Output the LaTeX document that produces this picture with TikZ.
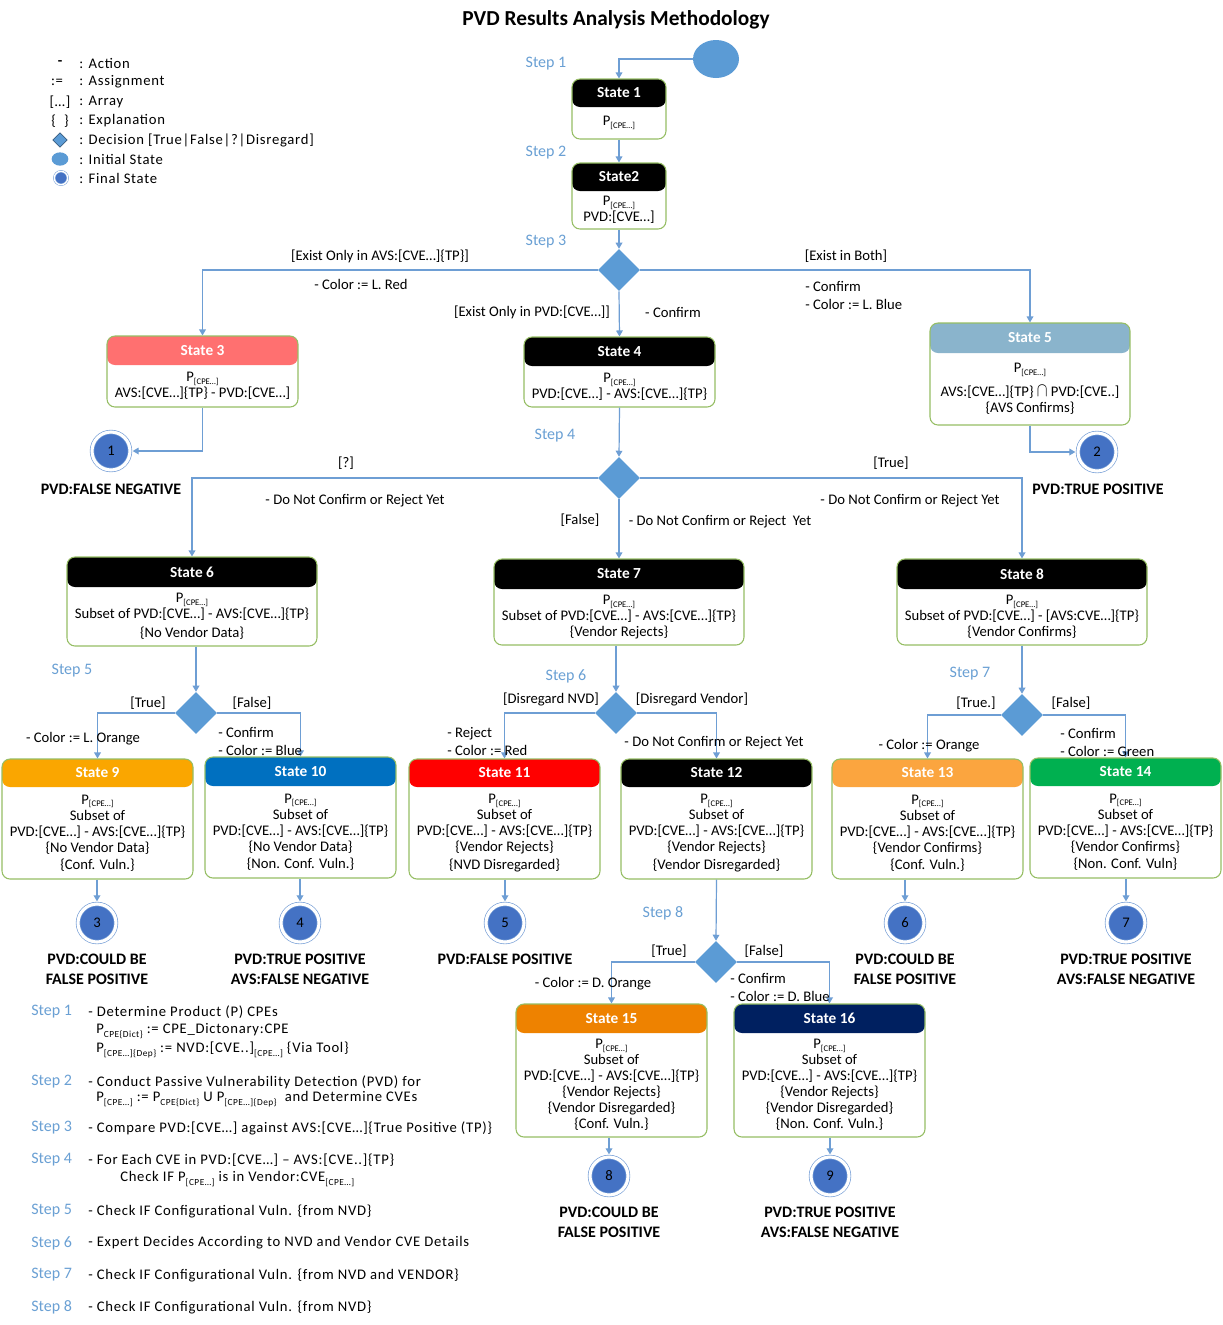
\documentclass[tikz,border=0pt]{standalone}
\usepackage{fontspec}
\setmainfont{Carlito}
\usetikzlibrary{shapes.geometric,arrows.meta}
\definecolor{lineC}{RGB}{110,158,212}
\definecolor{diaC}{RGB}{91,155,213}
\definecolor{finC}{RGB}{68,114,196}
\definecolor{ringC}{RGB}{120,160,215}
\definecolor{stepC}{RGB}{106,160,212}
\definecolor{boxC}{RGB}{150,190,100}
\definecolor{hRed}{RGB}{255,112,112}
\definecolor{hLBlue}{RGB}{138,180,204}
\definecolor{hOrange}{RGB}{250,166,0}
\definecolor{hBlue}{RGB}{0,112,192}
\definecolor{hRedB}{RGB}{255,0,0}
\definecolor{hLOrange}{RGB}{251,165,63}
\definecolor{hGreen}{RGB}{0,176,80}
\definecolor{hDOrange}{RGB}{238,130,0}
\definecolor{hNavy}{RGB}{0,32,96}
\newcommand\cpe{\raisebox{-0.4ex}{\fontsize{6.5}{6.5}\selectfont[CPE…]}}
\newcommand\subs[1]{\raisebox{-0.5ex}{\fontsize{7}{7}\selectfont #1}}
\newcommand\bigint{\scalebox{1.1}[1.35]{$\cap$}}
\tikzset{
  arr/.style={draw=lineC, line width=0.9pt, -{Triangle[width=5pt,length=4.5pt]}},
  stbox/.style={rectangle, rounded corners=6pt, draw=boxC, line width=0.8pt, fill=white, inner sep=0pt},
  sttitle/.style={font=\bfseries\fontsize{11.5}{13}\selectfont, text=white, inner sep=0pt},
  stbody/.style={font=\fontsize{11}{12}\selectfont, align=center, inner sep=0pt},
  dia/.style={diamond, aspect=1, fill=diaC, minimum width=31.5pt, minimum height=31.5pt, inner sep=0pt},
  final/.style={circle, fill=finC, draw=ringC, double=white, double distance=2.3pt, line width=0.5pt, minimum size=28.5pt, inner sep=0pt, outer sep=2pt, font=\fontsize{11}{12}\selectfont},
  flabel/.style={font=\bfseries\fontsize{12}{15}\selectfont, align=center, inner sep=0pt},
  elabel/.style={font=\fontsize{11}{13}\selectfont, inner sep=0pt},
  elabell/.style={font=\fontsize{11}{13.5}\selectfont, inner sep=0pt, align=left, anchor=west},
  steplbl/.style={font=\fontsize{12}{13}\selectfont, text=stepC, inner sep=0pt},
  desc/.style={font=\fontsize{11}{13}\selectfont\addfontfeature{LetterSpace=5}, inner sep=0pt, anchor=west},
  leg/.style={font=\fontsize{11}{13}\selectfont\addfontfeature{LetterSpace=5}, inner sep=0pt},
}
\newcommand\mkstate[9]{%
  \node[stbox, minimum width={(#4-#2)*0.75pt}, minimum height={(#5-#3)*0.75pt},
    path picture={\fill[#7] (path picture bounding box.north west) rectangle ([yshift={-(#6)*0.75pt}]path picture bounding box.north east);}]
    (#1) at ({(#2+#4)/2},{(#3+#5)/2}) {};
  \node[sttitle] (#1t) at ({(#2+#4)/2},{#3+#6/2}) {#8};
  \node[stbody] (#1b) at ({(#2+#4)/2},{(#3+#6+#5)/2}) {#9};
}
\begin{document}
\begin{tikzpicture}[x=0.75pt,y=-0.75pt]
\useasboundingbox (0,0) rectangle (1223,1325);
\fill[white] (0,0) rectangle (1223,1325);

% title
\node[font=\bfseries\fontsize{16}{18}\selectfont, inner sep=0pt] (title) at (616,20) {PVD Results Analysis Methodology};

% legend
\node[leg, font=\bfseries\fontsize{11}{13}\selectfont] (lg1s) at (60,63) {-};
\node[leg] (lg2s) at (57,82) {:=};
\node[leg] (lg3s) at (60,102) {[…]};
\node[leg] (lg4s) at (60,121) {\{\ \ \}};
\node[diamond, aspect=1, fill=diaC, draw=diaC!60!black, line width=0.5pt, minimum width=11pt, minimum height=11pt, inner sep=0pt] (lg5s) at (60,140) {};
\node[ellipse, fill=diaC, minimum width=12.5pt, minimum height=10pt, inner sep=0pt] (lg6s) at (60,159) {};
\node[circle, fill=finC, draw=ringC, double=white, double distance=1pt, line width=0.4pt, minimum size=10pt, inner sep=0pt] (lg7s) at (61,178) {};
\node[leg, anchor=west] (lg1) at (79,63) {: Action};
\node[leg, anchor=west] (lg2) at (79,82) {: Assignment};
\node[leg, anchor=west] (lg3) at (79,102) {: Array};
\node[leg, anchor=west] (lg4) at (79,121) {: Explanation};
\node[leg, anchor=west] (lg5) at (79,140) {: Decision [True|False|?|Disregard]};
\node[leg, anchor=west] (lg6) at (79,159) {: Initial State};
\node[leg, anchor=west] (lg7) at (79,178) {: Final State};

% initial
\node[ellipse, fill=diaC, minimum width=34.5pt, minimum height=28.5pt, inner sep=0pt] (init) at (716,59) {};

% states
\mkstate{s1}{572}{79}{666}{139}{28}{black}{State 1}{P\cpe}
\mkstate{s2}{572}{163}{666}{229}{28}{black}{State2}{P\cpe\\PVD:[CVE…]}
\mkstate{s3}{107}{336}{298}{407}{29}{hRed}{State 3}{P\cpe\\AVS:[CVE…]\{TP\} - PVD:[CVE…]}
\mkstate{s4}{524}{337}{715}{407}{29}{black}{State 4}{P\cpe\\PVD:[CVE…] - AVS:[CVE…]\{TP\}}
\mkstate{s5}{930}{323}{1130}{425}{30}{hLBlue}{State 5}{P\cpe\\[6pt]AVS:[CVE…]\{TP\} \bigint{} PVD:[CVE..]\\\{AVS Confirms\}}
\mkstate{s6}{67}{557}{317}{646}{30}{black}{State 6}{P\cpe\\Subset of PVD:[CVE…] - AVS:[CVE…]\{TP\}\\[2pt]\{No Vendor Data\}}
\mkstate{s7}{494}{559}{744}{645}{30}{black}{State 7}{P\cpe\\Subset of PVD:[CVE…] - AVS:[CVE…]\{TP\}\\\{Vendor Rejects\}}
\mkstate{s8}{897}{559}{1147}{645}{30}{black}{State 8}{P\cpe\\Subset of PVD:[CVE…] - [AVS:CVE…]\{TP\}\\\{Vendor Confirms\}}
\mkstate{s9}{2}{759}{193}{879}{28}{hOrange}{State 9}{P\cpe\\Subset of\\PVD:[CVE…] - AVS:[CVE…]\{TP\}\\\{No Vendor Data\}\\[1pt]\{Conf. Vuln.\}}
\mkstate{s10}{205}{757}{396}{878}{29}{hBlue}{State 10}{P\cpe\\Subset of\\PVD:[CVE…] - AVS:[CVE…]\{TP\}\\\{No Vendor Data\}\\[1pt]\{Non. Conf. Vuln.\}}
\mkstate{s11}{409}{759}{600}{879}{28}{hRedB}{State 11}{P\cpe\\Subset of\\PVD:[CVE…] - AVS:[CVE…]\{TP\}\\\{Vendor Rejects\}\\[1pt]\{NVD Disregarded\}}
\mkstate{s12}{621}{759}{812}{879}{28}{black}{State 12}{P\cpe\\Subset of\\PVD:[CVE…] - AVS:[CVE…]\{TP\}\\\{Vendor Rejects\}\\[1pt]\{Vendor Disregarded\}}
\mkstate{s13}{832}{759}{1023}{879}{28}{hLOrange}{State 13}{P\cpe\\Subset of\\PVD:[CVE…] - AVS:[CVE…]\{TP\}\\\{Vendor Confirms\}\\[1pt]\{Conf. Vuln.\}}
\mkstate{s14}{1030}{758}{1221}{878}{28}{hGreen}{State 14}{P\cpe\\Subset of\\PVD:[CVE…] - AVS:[CVE…]\{TP\}\\\{Vendor Confirms\}\\[1pt]\{Non. Conf. Vuln\}}
\mkstate{s15}{516}{1004}{707}{1137}{29}{hDOrange}{State 15}{P\cpe\\Subset of\\PVD:[CVE…] - AVS:[CVE…]\{TP\}\\\{Vendor Rejects\}\\\{Vendor Disregarded\}\\\{Conf. Vuln.\}}
\mkstate{s16}{734}{1004}{925}{1137}{29}{hNavy}{State 16}{P\cpe\\Subset of\\PVD:[CVE…] - AVS:[CVE…]\{TP\}\\\{Vendor Rejects\}\\\{Vendor Disregarded\}\\\{Non. Conf. Vuln.\}}

% decisions
\node[dia] (d1) at (619,270) {};
\node[dia] (d2) at (619,478) {};
\node[dia] (d3) at (196,713) {};
\node[dia] (d4) at (616,713) {};
\node[dia] (d5) at (1022,715) {};
\node[dia] (d6) at (716,962) {};

% finals
\node[final] (f1) at (111,451) {1};
\node[final] (f2) at (1097,452) {2};
\node[final] (f3) at (97,923) {3};
\node[final] (f4) at (300,923) {4};
\node[final] (f5) at (505,923) {5};
\node[final] (f6) at (905,923) {6};
\node[final] (f7) at (1126,923) {7};
\node[final] (f8) at (609,1176) {8};
\node[final] (f9) at (830,1176) {9};

\node[flabel] (fl1) at (111,489) {PVD:FALSE NEGATIVE};
\node[flabel] (fl2) at (1098,489) {PVD:TRUE POSITIVE};
\node[flabel] (fl3) at (97,969) {PVD:COULD BE\\FALSE POSITIVE};
\node[flabel] (fl4) at (300,969) {PVD:TRUE POSITIVE\\AVS:FALSE NEGATIVE};
\node[flabel] (fl5) at (505,959) {PVD:FALSE POSITIVE};
\node[flabel] (fl6) at (905,969) {PVD:COULD BE\\FALSE POSITIVE};
\node[flabel] (fl7) at (1126,969) {PVD:TRUE POSITIVE\\AVS:FALSE NEGATIVE};
\node[flabel] (fl8) at (609,1222) {PVD:COULD BE\\FALSE POSITIVE};
\node[flabel] (fl9) at (830,1222) {PVD:TRUE POSITIVE\\AVS:FALSE NEGATIVE};

% connectors
\draw[arr] (init.west) -| (s1.north);
\draw[arr] (s1.south) -- (s2.north);
\draw[arr] (s2.south) -- (d1.north);
\draw[arr] (d1.west) -| (s3.north);
\draw[arr] (d1.south) -- (s4.north);
\draw[arr] (d1.east) -| (s5.north);
\draw[arr] (s3.south) |- (f1.east);
\draw[arr] (s5.south) |- (f2.west);
\draw[arr] (s4.south) -- (d2.north);
\draw[arr] (d2.west) -| (s6.north);
\draw[arr] (d2.south) -- (s7.north);
\draw[arr] (d2.east) -| (s8.north);
\draw[arr] (d3.north |- s6.south) -- (d3.north);
\draw[arr] (d4.north |- s7.south) -- (d4.north);
\draw[arr] (s8.south) -- (d5.north);
\draw[arr] (d3.west) -| (s9.north);
\draw[arr] (d3.east) -| (s10.north);
\draw[arr] (d4.west) -| (s11.north);
\draw[arr] (d4.east) -| (s12.north);
\draw[arr] (d5.west) -| (s13.north);
\draw[arr] (d5.east) -| (s14.north);
\draw[arr] (s12.south) -- (d6.north);
\draw[arr] (d6.west) -| (s15.north);
\draw[arr] (d6.east) -| (s16.north);
\draw[arr] (f3.north |- s9.south) -- (f3.north);
\draw[arr] (f4.north |- s10.south) -- (f4.north);
\draw[arr] (f5.north |- s11.south) -- (f5.north);
\draw[arr] (f6.north |- s13.south) -- (f6.north);
\draw[arr] (f7.north |- s14.south) -- (f7.north);
\draw[arr] (f8.north |- s15.south) -- (f8.north);
\draw[arr] (f9.north |- s16.south) -- (f9.north);

% edge labels
\node[elabel] (e1) at (380,256) {[Exist Only in AVS:[CVE…]\{TP\}]};
\node[elabel] (e2) at (361,284) {- Color := L. Red};
\node[elabel] (e3) at (532,312) {[Exist Only in PVD:[CVE…]]};
\node[elabel] (e4) at (673,312) {- Confirm};
\node[elabel] (e5) at (846,256) {[Exist in Both]};
\node[elabell] (e6) at (805,295) {- Confirm\\- Color := L. Blue};
\node[elabel] (e7) at (346,463) {[?]};
\node[elabel] (e8) at (355,501) {- Do Not Confirm or Reject Yet};
\node[elabel] (e9) at (580,520) {[False]};
\node[elabel] (e10) at (720,522) {- Do Not Confirm or Reject~ Yet};
\node[elabel] (e11) at (891,463) {[True]};
\node[elabel] (e12) at (910,501) {- Do Not Confirm or Reject Yet};
\node[elabel] (e13) at (148,703) {[True]};
\node[elabel] (e14) at (252,703) {[False]};
\node[elabel] (e15) at (83,739) {- Color := L. Orange};
\node[elabell] (e16) at (218,741) {- Confirm\\- Color := Blue};
\node[elabel] (e17) at (551,699) {[Disregard NVD]};
\node[elabel] (e18) at (692,699) {[Disregard Vendor]};
\node[elabell] (e19) at (447,742) {- Reject\\- Color := Red};
\node[elabel] (e20) at (714,743) {- Do Not Confirm or Reject Yet};
\node[elabel] (e21) at (976,703) {[True.]};
\node[elabel] (e22) at (1071,703) {[False]};
\node[elabel] (e23) at (929,746) {- Color := Orange};
\node[elabell] (e24) at (1060,742) {- Confirm\\- Color := Green};
\node[elabel] (e25) at (669,951) {[True]};
\node[elabel] (e26) at (764,951) {[False]};
\node[elabel] (e27) at (593,984) {- Color := D. Orange};
\node[elabell] (e28) at (730,987) {- Confirm\\- Color := D. Blue};

% step labels
\node[steplbl] (st1) at (546,64) {Step 1};
\node[steplbl] (st2) at (546,153) {Step 2};
\node[steplbl] (st3) at (546,242) {Step 3};
\node[steplbl] (st4) at (555,436) {Step 4};
\node[steplbl] (st5) at (72,671) {Step 5};
\node[steplbl] (st6) at (566,676) {Step 6};
\node[steplbl] (st7) at (970,674) {Step 7};
\node[steplbl] (st8) at (663,913) {Step 8};

% description
\node[steplbl, anchor=west] (ds1) at (31,1012) {Step 1};
\node[steplbl, anchor=west] (ds2) at (31,1082) {Step 2};
\node[steplbl, anchor=west] (ds3) at (31,1128) {Step 3};
\node[steplbl, anchor=west] (ds4) at (31,1160) {Step 4};
\node[steplbl, anchor=west] (ds5) at (31,1211) {Step 5};
\node[steplbl, anchor=west] (ds6) at (31,1243) {Step 6};
\node[steplbl, anchor=west] (ds7) at (31,1275) {Step 7};
\node[steplbl, anchor=west] (ds8) at (31,1307) {Step 8};
\node[desc] (dt1a) at (88,1012) {- Determine Product (P) CPEs};
\node[desc] (dt1b) at (96,1031) {P\subs{CPE\{Dict\}} := CPE\_Dictonary:CPE};
\node[desc] (dt1c) at (96,1050) {P\subs{[CPE…]\{Dep\}} := NVD:[CVE..]\subs{[CPE…]} \{Via Tool\}};
\node[desc] (dt2a) at (88,1082) {- Conduct Passive Vulnerability Detection (PVD) for};
\node[desc] (dt2b) at (96,1099) {P\subs{[CPE…]} := P\subs{CPE\{Dict\}} U P\subs{[CPE…]\{Dep\}}~ and Determine CVEs};
\node[desc] (dt3) at (88,1128) {- Compare PVD:[CVE…] against AVS:[CVE…]\{True Positive (TP)\}};
\node[desc] (dt4a) at (88,1160) {- For Each CVE in PVD:[CVE…] – AVS:[CVE..]\{TP\}};
\node[desc] (dt4b) at (120,1179) {Check IF P\subs{[CPE…]} is in Vendor:CVE\subs{[CPE…]}};
\node[desc] (dt5) at (88,1211) {- Check IF Configurational Vuln. \{from NVD\}};
\node[desc] (dt6) at (88,1243) {- Expert Decides According to NVD and Vendor CVE Details};
\node[desc] (dt7) at (88,1275) {- Check IF Configurational Vuln. \{from NVD and VENDOR\}};
\node[desc] (dt8) at (88,1307) {- Check IF Configurational Vuln. \{from NVD\}};
\end{tikzpicture}
\end{document}
